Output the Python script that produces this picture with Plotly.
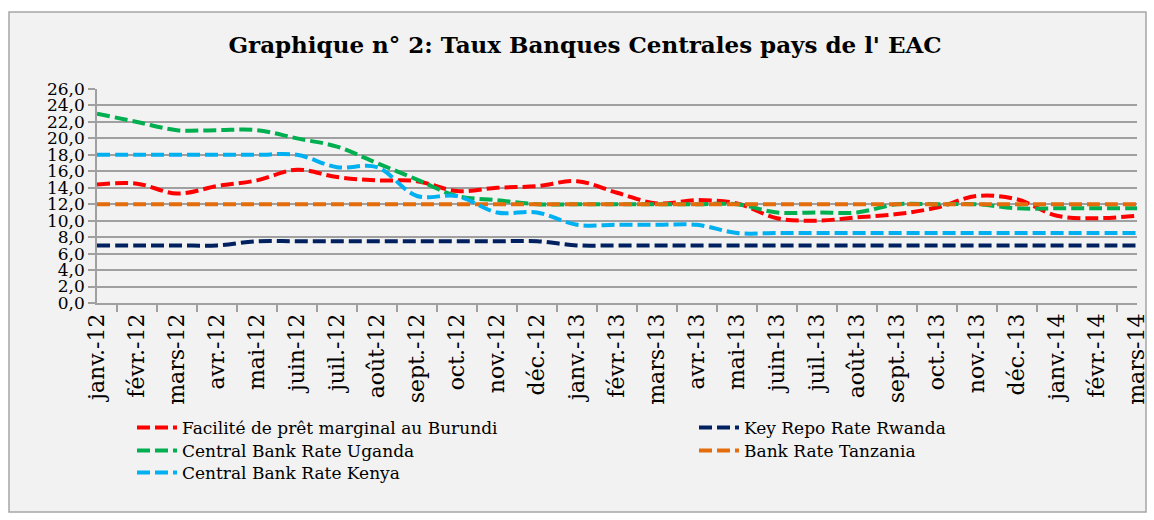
import plotly.graph_objects as go

months = ["janv.-12", "févr.-12", "mars-12", "avr.-12", "mai-12", "juin-12", "juil.-12",
          "août-12", "sept.-12", "oct.-12", "nov.-12", "déc.-12", "janv.-13", "févr.-13",
          "mars-13", "avr.-13", "mai-13", "juin-13", "juil.-13", "août-13", "sept.-13",
          "oct.-13", "nov.-13", "déc.-13", "janv.-14", "févr.-14", "mars-14"]

burundi = [14.4, 14.5, 13.3, 14.2, 14.9, 16.2, 15.3, 14.9, 14.8, 13.6, 14.0, 14.2, 14.8, 13.4,
           12.1, 12.5, 12.1, 10.3, 10.0, 10.4, 10.8, 11.6, 13.0, 12.6, 10.6, 10.3, 10.6]
rwanda = [7.0, 7.0, 7.0, 7.0, 7.5, 7.5, 7.5, 7.5, 7.5, 7.5, 7.5, 7.5, 7.0, 7.0,
          7.0, 7.0, 7.0, 7.0, 7.0, 7.0, 7.0, 7.0, 7.0, 7.0, 7.0, 7.0, 7.0]
uganda = [23.0, 22.0, 21.0, 21.0, 21.0, 20.0, 19.0, 17.0, 15.0, 13.0, 12.5, 12.0, 12.0, 12.0,
          12.0, 12.0, 12.0, 11.0, 11.0, 11.0, 12.0, 12.0, 12.0, 11.5, 11.5, 11.5, 11.5]
tanzania = [12.0, 12.0, 12.0, 12.0, 12.0, 12.0, 12.0, 12.0, 12.0, 12.0, 12.0, 12.0, 12.0, 12.0,
            12.0, 12.0, 12.0, 12.0, 12.0, 12.0, 12.0, 12.0, 12.0, 12.0, 12.0, 12.0, 12.0]
kenya = [18.0, 18.0, 18.0, 18.0, 18.0, 18.0, 16.5, 16.5, 13.0, 13.0, 11.0, 11.0, 9.5, 9.5,
         9.5, 9.5, 8.5, 8.5, 8.5, 8.5, 8.5, 8.5, 8.5, 8.5, 8.5, 8.5, 8.5]

# legend slot per series: (legend id, text-left px, row-centre px)
series = [
    ("Facilité de prêt marginal au Burundi", burundi, "#FF0000", "legend", 183, 428),
    ("Key Repo Rate Rwanda", rwanda, "#002060", "legend2", 745, 428),
    ("Central Bank Rate Uganda", uganda, "#00B050", "legend3", 183, 451),
    ("Bank Rate Tanzania", tanzania, "#E46C0A", "legend4", 745, 451),
    ("Central Bank Rate Kenya", kenya, "#00B0F0", "legend5", 183, 473),
]

FONT = "DejaVu Serif"

fig = go.Figure()
for name, vals, color, leg, _, _ in series:
    fig.add_trace(go.Scatter(
        x=months, y=vals, name=name, mode="lines", legend=leg,
        line=dict(color=color, width=4, dash="13px,5px", shape="spline", smoothing=1),
    ))

# plot area: x 97..1137, y 89..303 (px)
L, R, T, B = 97, 1137, 89, 303
W, H = R - L, B - T

def px_x(p):
    return (p - L) / W

def px_y(p):
    return (B - p) / H

fig.add_shape(type="rect", xref="paper", yref="paper",
              x0=px_x(9), x1=px_x(1146), y0=px_y(512), y1=px_y(12),
              fillcolor="#F2F2F2", line=dict(color="#A6A6A6", width=1.5), layer="below")

leg_common = dict(orientation="v", xanchor="left", yanchor="top",
                  xref="paper", yref="paper", bgcolor="rgba(0,0,0,0)",
                  font=dict(family=FONT, size=17, color="black"),
                  itemwidth=40, tracegroupgap=0)

legends = {}
for _, _, _, leg, tx, cy in series:
    legends[leg] = dict(x=px_x(tx - 51), y=px_y(cy - 18), **leg_common)

fig.update_layout(
    width=1154, height=520,
    margin=dict(l=L, r=1154 - R, t=T, b=520 - B, pad=0, autoexpand=False),
    paper_bgcolor="white", plot_bgcolor="white",
    separators=", ",
    font=dict(family=FONT, color="black"),
    title=dict(text="<b>Graphique n° 2: Taux Banques Centrales pays de l' EAC</b>",
               x=585 / 1154, xref="container", xanchor="center",
               y=1 - 45 / 520, yref="container", yanchor="middle",
               font=dict(family=FONT, size=23, color="black")),
    showlegend=True,
    xaxis=dict(type="category", tickangle=-90, showgrid=False, automargin=False,
               showline=True, linecolor="#A0A0A0", linewidth=1.5,
               ticks="outside", ticklen=7, tickcolor="#A0A0A0", tickwidth=1.5,
               tickson="boundaries",
               tickfont=dict(family=FONT, size=22, color="black")),
    yaxis=dict(range=[0, 26], dtick=2, tick0=0, tickformat=".1f", automargin=False,
               showgrid=True, gridcolor="#A0A0A0", gridwidth=1.5,
               showline=True, linecolor="#A0A0A0", linewidth=1.5,
               ticks="outside", ticklen=7, tickcolor="#A0A0A0", tickwidth=1.5,
               zeroline=False,
               tickfont=dict(family=FONT, size=17, color="black")),
)
fig.update_layout(**legends)

fig.write_html("out.html", config={"displayModeBar": False},
               post_script="document.body.style.margin='0px';")
